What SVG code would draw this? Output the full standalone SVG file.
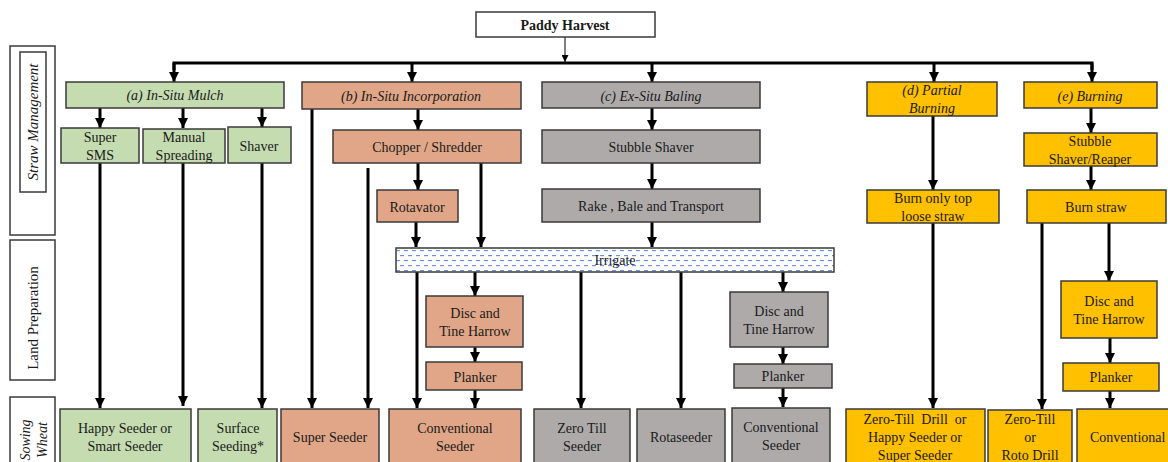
<svg xmlns="http://www.w3.org/2000/svg" width="1168" height="462" viewBox="0 0 1168 462">
<style>
text{font-family:"Liberation Serif","DejaVu Serif","Times New Roman",Times,serif;font-size:14px;fill:#1a1a1a;text-anchor:middle;dominant-baseline:central}
.it{font-style:italic}
.b{font-weight:bold}
.s15{font-size:15px}
.box{stroke:#3a3a3a;stroke-width:1.5}
.g{fill:#c5dcb1}
.o{fill:#e0a687}
.gr{fill:#aeaaaa}
.y{fill:#ffc000}
.w{fill:#ffffff}
.lbl{fill:#ffffff;stroke:#3a3a3a;stroke-width:1.5}
.c{stroke:#000;stroke-width:3;fill:none}
.ca{stroke:#000;stroke-width:3;fill:none;marker-end:url(#ah)}
</style>
<defs>
<marker id="ah" viewBox="0 0 10 10" refX="10" refY="5" markerWidth="11" markerHeight="10" markerUnits="userSpaceOnUse" orient="auto">
<path d="M0,0 L10,5 L0,10 z" fill="#000"/>
</marker>
<marker id="ahs" viewBox="0 0 10 10" refX="10" refY="5" markerWidth="7" markerHeight="7" markerUnits="userSpaceOnUse" orient="auto">
<path d="M0,0 L10,5 L0,10 z" fill="#000"/>
</marker>
<pattern id="water" width="8" height="10" patternUnits="userSpaceOnUse" x="396" y="248">
<rect width="8" height="10" fill="#ffffff"/>
<rect x="0" y="2" width="4" height="1.2" fill="#6a96de"/>
<rect x="4" y="7" width="4" height="1.2" fill="#6a96de"/>
</pattern>
</defs>

<g id="labels">
<rect class="lbl" x="10" y="46" width="45" height="189"/>
<rect class="lbl" x="20" y="52" width="26" height="140"/>
<text class="it s15" transform="translate(33,122) rotate(-90)">Straw Management</text>
<rect class="lbl" x="10" y="240" width="45" height="140"/>
<text class="s15" transform="translate(33,318) rotate(-90)">Land Preparation</text>
<rect class="lbl" x="10" y="397" width="45" height="70"/>
<text class="it" transform="translate(25,440) rotate(-90)">Sowing</text>
<text class="it" transform="translate(42,440) rotate(-90)">Wheat</text>
</g>

<g id="connectors">
<line x1="565" y1="37" x2="565" y2="62" stroke="#000" stroke-width="1" marker-end="url(#ahs)"/>
<path class="c" d="M174,70 V63 H1092 V70"/>
<line class="ca" x1="174" y1="63" x2="174" y2="82"/>
<line class="ca" x1="412" y1="63" x2="412" y2="82"/>
<line class="ca" x1="652" y1="63" x2="652" y2="82"/>
<line class="ca" x1="934" y1="63" x2="934" y2="82"/>
<line class="ca" x1="1092" y1="63" x2="1092" y2="82"/>
<line class="ca" x1="100" y1="108" x2="100" y2="128"/>
<line class="ca" x1="183" y1="108" x2="183" y2="128"/>
<line class="ca" x1="262" y1="108" x2="262" y2="127"/>
<line class="ca" x1="100" y1="163" x2="100" y2="408"/>
<line class="ca" x1="183" y1="163" x2="183" y2="406"/>
<line class="ca" x1="262" y1="163" x2="262" y2="408"/>
<line class="ca" x1="312" y1="109" x2="312" y2="408"/>
<line class="ca" x1="418" y1="109" x2="418" y2="130"/>
<line class="ca" x1="368" y1="168" x2="368" y2="408"/>
<line class="ca" x1="418" y1="163" x2="418" y2="190"/>
<line class="ca" x1="481" y1="163" x2="481" y2="247"/>
<line class="ca" x1="416" y1="222" x2="416" y2="247"/>
<line class="ca" x1="652" y1="108" x2="652" y2="130"/>
<line class="ca" x1="652" y1="163" x2="652" y2="189"/>
<line class="ca" x1="652" y1="222" x2="652" y2="247"/>
<line class="ca" x1="417" y1="272" x2="417" y2="408"/>
<line class="ca" x1="475" y1="272" x2="475" y2="296"/>
<line class="ca" x1="475" y1="347" x2="475" y2="362"/>
<line class="ca" x1="475" y1="390" x2="475" y2="408"/>
<line class="ca" x1="581" y1="272" x2="581" y2="408"/>
<line class="ca" x1="681" y1="272" x2="681" y2="408"/>
<line class="ca" x1="783" y1="272" x2="783" y2="292"/>
<line class="ca" x1="783" y1="347" x2="783" y2="364"/>
<line class="ca" x1="783" y1="388" x2="783" y2="407"/>
<line class="ca" x1="933" y1="116" x2="933" y2="190"/>
<line class="ca" x1="933" y1="223" x2="933" y2="408"/>
<line class="ca" x1="1091" y1="108" x2="1091" y2="133"/>
<line class="ca" x1="1091" y1="166" x2="1091" y2="190"/>
<line class="ca" x1="1042" y1="223" x2="1042" y2="409"/>
<line class="ca" x1="1109" y1="223" x2="1109" y2="281"/>
<line class="ca" x1="1110" y1="338" x2="1110" y2="363"/>
<line class="ca" x1="1110" y1="391" x2="1110" y2="408"/>
</g>

<g id="paddy-harvest"><rect class="box w" x="476" y="12" width="179" height="25"/><text class="b" x="565" y="25">Paddy Harvest</text></g>

<g id="in-situ-mulch"><rect class="box g" x="66" y="82" width="218" height="26"/><text class="it" x="175" y="95">(a) In-Situ Mulch</text></g>
<g id="super-sms"><rect class="box g" x="61" y="128" width="78" height="35"/><text x="100" y="137">Super</text><text x="100" y="155">SMS</text></g>
<g id="manual-spreading"><rect class="box g" x="143" y="129" width="82" height="34"/><text x="184" y="137">Manual</text><text x="184" y="155">Spreading</text></g>
<g id="shaver"><rect class="box g" x="228" y="127" width="63" height="36"/><text x="259" y="146">Shaver</text></g>
<g id="happy-seeder"><rect class="box g" x="60" y="409" width="131" height="60"/><text x="125" y="428">Happy Seeder or</text><text x="125" y="446">Smart Seeder</text></g>
<g id="surface-seeding"><rect class="box g" x="198" y="409" width="79" height="60"/><text x="238" y="428">Surface</text><text x="238" y="446">Seeding*</text></g>

<g id="in-situ-incorporation"><rect class="box o" x="302" y="82" width="219" height="27"/><text class="it" x="411" y="96">(b) In-Situ Incorporation</text></g>
<g id="chopper-shredder"><rect class="box o" x="333" y="130" width="188" height="33"/><text x="427" y="147">Chopper / Shredder</text></g>
<g id="rotavator"><rect class="box o" x="377" y="190" width="81" height="32"/><text x="417" y="207">Rotavator</text></g>
<g id="super-seeder"><rect class="box o" x="281" y="409" width="98" height="60"/><text x="330" y="437">Super Seeder</text></g>
<g id="disc-harrow-b"><rect class="box o" x="426" y="296" width="97" height="51"/><text x="475" y="313">Disc and</text><text x="475" y="331">Tine Harrow</text></g>
<g id="planker-b"><rect class="box o" x="426" y="362" width="96" height="28"/><text x="475" y="377">Planker</text></g>
<g id="conventional-seeder-b"><rect class="box o" x="389" y="409" width="132" height="60"/><text x="455" y="428">Conventional</text><text x="455" y="446">Seeder</text></g>

<g id="ex-situ-baling"><rect class="box gr" x="542" y="82" width="218" height="26"/><text class="it" x="651" y="96">(c) Ex-Situ Baling</text></g>
<g id="stubble-shaver"><rect class="box gr" x="542" y="130" width="218" height="33"/><text x="651" y="147">Stubble Shaver</text></g>
<g id="rake-bale"><rect class="box gr" x="542" y="189" width="218" height="33"/><text x="651" y="206">Rake , Bale and Transport</text></g>
<g id="irrigate"><rect x="396" y="248" width="438" height="24" fill="url(#water)" stroke="#3a3a3a" stroke-width="1.5"/><text x="615" y="260">Irrigate</text></g>
<g id="zero-till-seeder"><rect class="box gr" x="534" y="409" width="96" height="60"/><text x="582" y="428">Zero Till</text><text x="582" y="446">Seeder</text></g>
<g id="rotaseeder"><rect class="box gr" x="637" y="409" width="88" height="60"/><text x="681" y="437">Rotaseeder</text></g>
<g id="disc-harrow-c"><rect class="box gr" x="730" y="292" width="98" height="55"/><text x="779" y="311">Disc and</text><text x="779" y="329">Tine Harrow</text></g>
<g id="planker-c"><rect class="box gr" x="734" y="364" width="98" height="24"/><text x="783" y="376">Planker</text></g>
<g id="conventional-seeder-c"><rect class="box gr" x="732" y="408" width="98" height="60"/><text x="781" y="427">Conventional</text><text x="781" y="445">Seeder</text></g>

<g id="partial-burning"><rect class="box y" x="867" y="82" width="130" height="34"/><text class="it" x="932" y="90">(d) Partial</text><text class="it" x="932" y="108">Burning</text></g>
<g id="burn-top"><rect class="box y" x="867" y="190" width="132" height="33"/><text x="933" y="198">Burn only top</text><text x="933" y="216">loose straw</text></g>
<g id="zero-till-drill"><rect class="box y" x="846" y="409" width="139" height="60"/><text x="915" y="419" style="white-space:pre">Zero-Till  Drill  or</text><text x="915" y="437">Happy Seeder or</text><text x="915" y="455">Super Seeder</text></g>

<g id="burning"><rect class="box y" x="1024" y="82" width="133" height="26"/><text class="it" x="1090" y="96">(e) Burning</text></g>
<g id="stubble-reaper"><rect class="box y" x="1024" y="133" width="133" height="33"/><text x="1090" y="141">Stubble</text><text x="1090" y="159">Shaver/Reaper</text></g>
<g id="burn-straw"><rect class="box y" x="1027" y="190" width="139" height="33"/><text x="1096" y="207">Burn straw</text></g>
<g id="zero-till-roto"><rect class="box y" x="988" y="410" width="84" height="60"/><text x="1030" y="419">Zero-Till</text><text x="1030" y="437">or</text><text x="1030" y="455">Roto Drill</text></g>
<g id="disc-harrow-e"><rect class="box y" x="1061" y="281" width="96" height="57"/><text x="1109" y="301">Disc and</text><text x="1109" y="319">Tine Harrow</text></g>
<g id="planker-e"><rect class="box y" x="1063" y="363" width="96" height="28"/><text x="1111" y="377">Planker</text></g>
<g id="conventional-e"><rect class="box y" x="1077" y="409" width="100" height="60"/><text x="1090" y="437" style="text-anchor:start">Conventional</text></g>
</svg>
